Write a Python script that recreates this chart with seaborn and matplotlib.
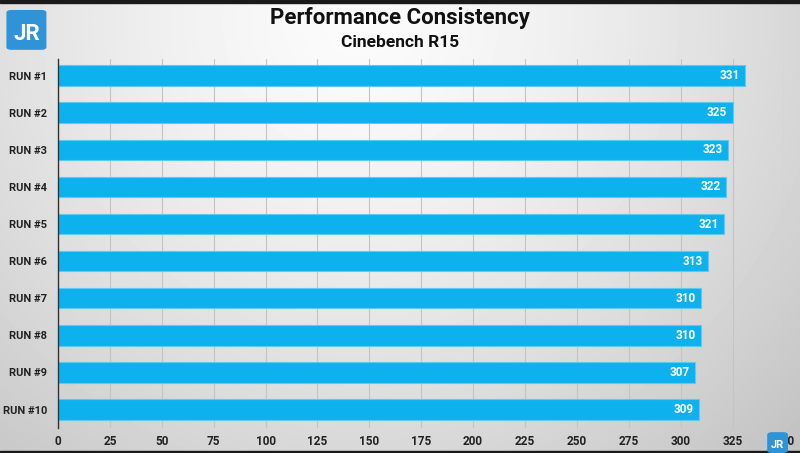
import numpy as np
import pandas as pd
import matplotlib.pyplot as plt
import seaborn as sns
from matplotlib.patches import FancyBboxPatch

runs = ['RUN #1', 'RUN #2', 'RUN #3', 'RUN #4', 'RUN #5',
        'RUN #6', 'RUN #7', 'RUN #8', 'RUN #9', 'RUN #10']
scores = [331, 325, 323, 322, 321, 313, 310, 310, 307, 309]
x_ticks = [0, 25, 50, 75, 100, 125, 150, 175, 200, 225, 250, 275, 300, 325, 350]

df = pd.DataFrame({'run': runs, 'score': scores})

sns.set_style('white')
plt.rcParams['font.family'] = ['Roboto', 'DejaVu Sans']

fig = plt.figure(figsize=(8, 4.53), dpi=100)

# fondo con degradado gris
bg = fig.add_axes([0, 0, 1, 1], zorder=0)
yy, xx = np.mgrid[0:453, 0:800]
d = np.sqrt(((xx - 360) / 560.0) ** 2 + ((yy - 20) / 560.0) ** 2)
shade = np.clip(0.985 - 0.2 * d ** 1.4, 0.72, 0.985)
bg.imshow(shade, cmap='gray', vmin=0, vmax=1, aspect='auto', extent=[0, 1, 0, 1])
bg.axhspan(0.993, 1.0, color='#1a1a1a')
bg.axhspan(0.0, 0.004, color='#1a1a1a')
bg.set_xlim(0, 1)
bg.set_ylim(0, 1)
bg.axis('off')

ax = fig.add_axes([0.0725, 0.055, 0.908, 0.815], zorder=1)
ax.patch.set_alpha(0)
sns.barplot(data=df, y='run', x='score', color='#0db1ee', saturation=1,
            width=0.55, linewidth=0.8, edgecolor='#5ccaf3', ax=ax, zorder=2)

for i, v in enumerate(scores):
    ax.text(v - 2.5, i, str(v), ha='right', va='center', color='white',
            fontsize=8.5, fontweight='bold', zorder=3)

ax.set_xlim(0, 350)
ax.set_ylim(9.5, -0.45)
ax.set_xticks(x_ticks)
ax.set_xticklabels([str(t) for t in x_ticks], fontsize=8.5, fontweight='bold', color='#222222')
ax.tick_params(axis='y', labelsize=8, length=0, pad=8)
for lbl in ax.get_yticklabels():
    lbl.set_fontweight('bold')
    lbl.set_color('#222222')
ax.tick_params(axis='x', length=0, pad=5)
ax.grid(axis='x', color='#c4c4c4', linewidth=0.8, zorder=0)
ax.set_axisbelow(True)
ax.set_xlabel('')
ax.set_ylabel('')
for s in ['top', 'right', 'bottom']:
    ax.spines[s].set_visible(False)
ax.spines['left'].set_color('#333333')
ax.spines['left'].set_linewidth(1.0)

fig.text(0.5, 0.96, 'Performance Consistency', ha='center', va='center',
         fontsize=16, fontweight='bold', color='#111111')
fig.text(0.5, 0.907, 'Cinebench R15', ha='center', va='center',
         fontsize=12.5, fontweight='bold', color='#111111')

# logos JR
def logo(x, y, w, h, fs):
    box = FancyBboxPatch((x, y), w, h, boxstyle='round,pad=0,rounding_size=0.006',
                         transform=fig.transFigure, facecolor='#2f93d8',
                         edgecolor='none', zorder=5)
    fig.patches.append(box)
    fig.text(x + w / 2, y + h * 0.4, 'JR', ha='center', va='center', color='white',
             fontsize=fs, fontweight='bold', zorder=6)

logo(0.008, 0.89, 0.05, 0.088, 16)
logo(0.959, 0.0, 0.026, 0.046, 8)

plt.savefig('out.png', dpi=100)
